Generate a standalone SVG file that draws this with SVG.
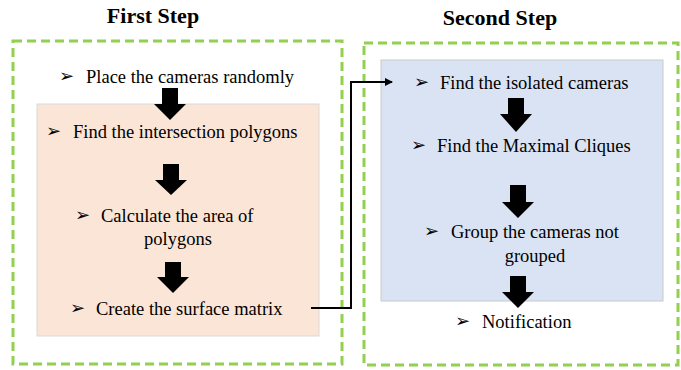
<svg xmlns="http://www.w3.org/2000/svg" width="681" height="370" viewBox="0 0 681 370">
<defs>
<style>
.title{font-family:"Liberation Serif","Times New Roman",serif;font-weight:bold;font-size:22px;fill:#000}
.t{font-family:"Liberation Serif","Times New Roman",serif;font-size:18.5px;fill:#000}
.b{font-family:"DejaVu Sans",sans-serif;font-size:18px;fill:#000}
.dash{fill:none;stroke:#92D050;stroke-width:3;stroke-dasharray:9,5}
.blk{fill:#000}
.con{fill:none;stroke:#000;stroke-width:2}
</style>
<marker id="ah" markerWidth="8" markerHeight="8" refX="7" refY="4" orient="auto" markerUnits="userSpaceOnUse">
<path d="M0,0 L8,4 L0,8 Z" fill="#000"/>
</marker>
</defs>
<rect width="681" height="370" fill="#fff"/>

<g id="first-step">
<text class="title" x="153" y="23" text-anchor="middle">First Step</text>
<rect class="dash" x="13" y="41" width="329" height="323"/>
<rect x="37" y="104" width="282" height="232" fill="#FBE5D6" stroke="#D9D9D9" stroke-width="1"/>
</g>

<g id="second-step">
<text class="title" x="500" y="25" text-anchor="middle">Second Step</text>
<rect class="dash" x="364" y="43" width="314" height="322"/>
<rect x="381" y="60" width="282" height="241" fill="#DAE3F3" stroke="#C9C9C9" stroke-width="1"/>
</g>

<g id="place">
<text class="b" x="59" y="82">➢</text>
<text class="t" x="86" y="83">Place the cameras randomly</text>
</g>
<g id="find-polygons">
<text class="b" x="46" y="137">➢</text>
<text class="t" x="73" y="138">Find the intersection polygons</text>
</g>
<g id="calc-area">
<text class="b" x="75" y="221">➢</text>
<text class="t" x="101" y="222">Calculate the area of</text>
<text class="t" x="178" y="245" text-anchor="middle">polygons</text>
</g>
<g id="surface-matrix">
<text class="b" x="70" y="314">➢</text>
<text class="t" x="96" y="315">Create the surface matrix</text>
</g>

<g id="isolated">
<text class="b" x="414" y="88">➢</text>
<text class="t" x="440" y="89">Find the isolated cameras</text>
</g>
<g id="cliques">
<text class="b" x="411" y="151">➢</text>
<text class="t" x="437" y="152">Find the Maximal Cliques</text>
</g>
<g id="group">
<text class="b" x="424" y="237">➢</text>
<text class="t" x="451" y="238">Group the cameras not</text>
<text class="t" x="535" y="262" text-anchor="middle">grouped</text>
</g>
<g id="notification">
<text class="b" x="455" y="327">➢</text>
<text class="t" x="482" y="328">Notification</text>
</g>

<g id="connectors">
<polygon class="blk" points="162,88 178,88 178,104 186,104 170,120 154,104 162,104"/>
<polygon class="blk" points="163,164 179,164 179,180 187,180 171,195 155,180 163,180"/>
<polygon class="blk" points="165,262 181,262 181,277 189,277 173,293 157,277 165,277"/>
<polygon class="blk" points="508,98 524,98 524,114 532,114 516,132 500,114 508,114"/>
<polygon class="blk" points="510,185 526,185 526,202 534,202 518,218 502,202 510,202"/>
<polygon class="blk" points="510,276 526,276 526,292 534,292 518,308 502,292 510,292"/>
<path class="con" d="M311,308 H351 V82 H392" marker-end="url(#ah)"/>
</g>
</svg>
